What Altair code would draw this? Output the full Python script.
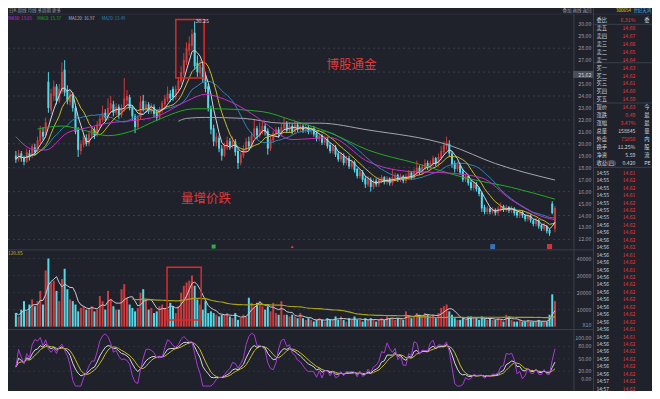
import altair as alt
import pandas as pd

# ---------------- data ----------------
opens = [
 19.0,18.7,19.2,18.8,18.5,19.2,19.0,19.7,19.4,20.2,
 21.0,20.7,25.2,22.8,24.0,24.8,23.6,24.4,26.2,24.5,
 23.5,24.0,23.0,21.2,19.4,19.9,20.5,20.0,20.7,21.2,
 20.7,21.5,22.0,22.6,22.2,22.9,23.3,22.6,23.1,22.4,
 22.9,23.6,23.9,23.0,22.3,21.4,22.2,23.6,22.9,23.3,
 22.7,23.1,22.6,22.2,22.8,23.3,23.7,24.2,24.6,23.9,
 24.5,25.2,25.9,26.8,27.8,28.2,29.3,26.8,25.9,26.4,
 25.5,24.8,23.0,21.3,20.1,20.5,19.6,19.0,19.7,20.2,
 19.8,20.2,19.4,18.4,19.0,19.5,20.2,19.8,20.6,21.3,
 20.7,21.1,21.5,21.1,19.6,20.3,20.8,21.2,20.8,21.3,
 21.7,21.1,21.5,21.0,21.6,21.2,21.5,21.1,21.4,21.0,
 21.3,20.9,20.4,20.7,20.1,20.4,19.9,19.4,19.7,19.2,
 18.7,19.0,18.4,18.8,18.1,18.5,17.9,17.3,17.6,17.1,
 16.6,17.0,16.4,16.9,16.6,16.9,17.2,16.8,17.1,16.7,
 17.1,17.4,17.0,17.3,16.9,17.2,17.6,17.2,17.6,18.0,
 17.6,18.0,18.4,18.0,18.3,18.8,18.3,18.8,19.3,19.8,
 20.0,19.2,18.4,17.9,18.2,17.7,17.0,17.3,16.8,16.3,
 16.6,16.3,15.9,14.7,14.3,14.6,14.3,14.5,14.2,14.5,
 14.8,14.5,14.7,14.4,14.6,14.3,14.0,14.3,14.0,13.7,
 14.0,13.6,13.3,13.6,13.2,12.9,13.1,12.8,15.0,12.9,
]
closes = [
 18.7,19.2,18.8,18.5,19.3,19.0,19.8,19.3,20.3,21.2,
 20.6,21.8,23.0,24.2,24.8,23.6,24.6,26.0,24.3,23.6,
 24.2,23.0,21.0,19.5,20.0,20.6,20.0,20.8,21.2,20.7,
 21.6,22.1,22.6,22.2,23.0,23.4,22.6,23.1,22.4,23.0,
 23.8,24.0,23.0,22.3,21.4,22.2,23.5,22.9,23.3,22.7,
 23.2,22.5,22.2,22.9,23.4,23.8,24.2,23.8,23.9,24.6,
 25.3,26.0,27.0,28.0,28.4,29.2,26.5,26.0,26.6,25.4,
 24.6,23.0,21.2,20.2,20.6,19.6,19.0,19.8,20.3,19.8,
 20.3,19.3,18.4,19.1,19.6,20.2,19.8,20.7,21.3,20.7,
 21.2,21.5,21.0,19.6,20.4,20.9,21.2,20.8,21.4,21.7,
 21.1,21.5,21.0,21.6,21.2,21.5,21.1,21.4,21.0,21.3,
 20.8,20.4,20.7,20.1,20.5,19.8,19.4,19.8,19.1,18.7,
 19.1,18.4,18.8,18.1,18.5,17.8,17.3,17.7,17.0,16.6,
 17.1,16.4,16.9,16.6,17.0,17.2,16.8,17.1,16.7,17.2,
 17.4,17.0,17.3,16.9,17.3,17.6,17.2,17.7,18.0,17.6,
 18.1,18.4,18.0,18.4,18.8,18.3,18.9,19.4,19.9,20.1,
 19.2,18.3,17.9,18.3,17.6,17.0,17.3,16.7,16.3,16.7,
 16.2,15.8,14.6,14.3,14.6,14.3,14.5,14.2,14.6,14.8,
 14.5,14.7,14.4,14.6,14.2,14.0,14.3,14.0,13.7,14.0,
 13.6,13.3,13.6,13.1,12.9,13.2,12.7,12.5,14.2,14.63,
]
highs = [
 19.4,19.5,19.4,19.0,19.6,19.5,20.0,20.0,20.6,21.5,
 21.4,22.2,26.0,24.6,25.3,25.0,25.0,26.8,27.0,24.9,
 24.5,24.3,23.2,21.4,20.3,20.8,20.8,21.1,21.5,21.4,
 21.9,22.4,23.2,22.9,23.8,24.0,23.6,23.4,23.3,23.3,
 25.5,24.5,24.1,23.2,22.5,22.4,24.0,24.1,23.6,23.5,
 23.4,23.3,22.8,23.1,23.6,24.1,24.8,24.5,24.8,24.9,
 25.6,26.5,27.6,28.5,29.0,29.6,30.25,27.4,27.0,26.8,
 25.8,25.0,23.2,21.6,20.9,20.7,19.9,20.1,20.6,20.5,
 20.6,20.4,19.6,19.3,19.9,20.5,20.6,21.0,22.0,21.5,
 21.8,21.9,21.7,21.3,20.7,21.1,21.4,21.4,21.7,22.2,
 21.9,21.8,21.7,21.9,21.8,21.8,21.7,21.6,21.6,21.5,
 21.5,21.1,20.9,20.8,20.7,20.6,20.1,20.0,19.9,19.4,
 19.3,19.2,19.0,19.0,18.7,18.6,18.0,17.9,17.8,17.3,
 17.3,17.2,17.1,17.1,17.2,17.4,17.3,17.3,17.2,17.9,
 17.6,17.5,17.5,17.4,17.5,17.8,17.7,17.9,18.6,18.2,
 18.3,18.7,18.6,18.6,19.0,18.9,19.2,19.8,20.2,20.6,
 20.3,19.4,18.6,18.5,18.4,17.9,17.5,17.4,17.0,16.9,
 16.8,16.4,16.0,14.9,14.8,14.7,14.7,14.6,14.8,15.1,
 14.9,14.9,14.8,14.8,14.7,14.4,14.5,14.4,14.1,14.2,
 14.1,13.7,13.8,13.7,13.3,13.4,13.2,12.9,15.2,14.8,
]
lows = [
 18.4,18.5,18.5,18.2,18.4,18.6,18.8,19.0,19.2,20.0,
 20.3,20.5,22.6,22.5,23.6,23.3,23.4,24.2,24.0,23.3,
 23.2,22.7,20.8,18.9,19.1,19.7,19.8,19.8,20.5,20.4,
 20.6,21.3,21.8,21.9,22.0,22.7,22.3,22.4,22.1,22.2,
 22.7,23.3,22.8,22.0,20.9,21.2,22.0,22.7,22.6,22.5,
 22.5,22.2,21.9,22.0,22.6,23.1,23.5,23.5,23.6,23.7,
 24.3,25.0,25.7,26.6,27.4,27.8,26.2,25.6,25.6,25.1,
 24.3,22.7,20.8,19.8,19.8,19.3,18.6,18.9,19.5,19.5,
 19.6,19.0,17.9,18.2,18.8,19.3,19.5,19.6,20.4,20.4,
 20.5,20.8,20.7,19.1,19.4,20.1,20.6,20.5,20.6,21.1,
 20.9,20.9,20.8,20.8,21.0,21.0,20.9,20.9,20.8,20.8,
 20.6,20.2,20.2,19.9,19.9,19.6,19.2,19.2,18.9,18.5,
 18.5,18.2,18.2,17.9,17.9,17.6,17.1,17.1,16.8,16.3,
 16.4,16.0,16.2,16.4,16.4,16.7,16.6,16.6,16.5,16.5,
 16.9,16.8,16.8,16.7,16.7,17.0,17.0,17.0,17.4,17.4,
 17.4,17.8,17.8,17.8,18.1,18.1,18.1,18.6,19.1,19.5,
 18.9,18.0,17.6,17.7,17.4,16.8,16.8,16.5,16.1,16.1,
 16.0,15.6,14.3,14.1,14.1,14.1,14.1,14.0,14.0,14.3,
 14.3,14.3,14.2,14.2,14.0,13.8,13.8,13.8,13.5,13.5,
 13.4,13.1,13.1,12.9,12.7,12.7,12.5,12.3,14.1,12.6,
]
# volume in thousands
volumes = [
 8,6,10,15,9,13,16,12,15,21,
 13,33,40,26,27,21,15,28,34,22,
 16,15,13,9,11,12,10,11,12,9,
 10,18,15,10,21,16,12,10,10,22,
 25,17,13,11,9,11,20,22,16,10,
 11,8,9,12,13,11,10,14,12,8,
 12,20,24,26,27,30,24,16,13,10,
 15,8,9,8,7,6,7,7,8,6,
 5,8,4,5,7,6,17,14,12,14,
 15,12,10,12,9,14,8,7,15,7,
 7,6,7,6,5,8,5,4,5,4,
 3,4,5,4,3,5,4,4,6,4,
 6,4,3,5,4,6,4,4,3,5,
 4,5,4,3,4,5,4,6,5,5,
 4,5,5,4,9,6,5,6,8,7,
 6,8,7,6,7,5,8,11,12,13,
 9,7,5,4,4,5,4,6,6,5,
 5,4,6,5,4,5,4,4,5,4,
 3,7,6,4,3,3,4,3,3,4,
 3,3,3,4,3,3,3,7,19,15,
]

# long moving averages (candle index, price)
ma30_at = [0, 6, 11, 19, 26, 34, 44, 52, 63, 70, 77, 87, 92, 102, 116, 130, 144, 160, 172, 183, 195, 199]
ma30_val = [20.6, 19.56, 19.48, 20.92, 21.33, 21.73, 21.97, 22.29, 23.57, 24.14, 23.73, 22.53, 21.73,
            20.36, 20.52, 18.51, 17.71, 17.55, 17.15, 15.30, 13.86, 13.65]
ma60_at = [8, 17, 26, 34, 44, 52, 66, 73, 91, 102, 116, 130, 148, 166, 183, 199]
ma60_val = [21.24, 21.49, 21.08, 20.68, 21.16, 21.97, 22.93, 22.93, 22.69, 21.97, 20.92, 19.48,
            18.35, 17.15, 16.35, 15.37]
ma120_at = [60, 63, 70, 84, 98, 112, 130, 160, 177, 199]
ma120_val = [21.89, 22.13, 22.21, 22.13, 21.73, 21.73, 21.16, 19.88, 18.35, 16.97]

# 26.00 is hidden behind the cross-hair price box in the reference
price_ticks = [30, 29, 28, 27, 25, 24, 23, 22, 21, 20, 19, 18, 17, 16, 15, 14, 13, 12]
price_grid = [28, 26, 24, 22, 20, 18, 16, 14, 12]
vol_ticks = [40, 30, 20, 10]
vol_tick_labels = ["40000", "30000", "20000", "10000"]
osc_ticks = [100, 80, 50, 20, 0]

legend_text = ["MA30: 13.65", "MA60: 15.37", "MA120: 16.97", "MA20: 13.49"]

book_labels = ["委比", "卖五", "卖四", "卖三", "卖二", "卖一", "买一", "买二", "买三", "买四", "买五",
               "现价", "涨跌", "涨幅", "总量", "外盘", "换手", "净资", "收益(四)"]
book_values = ["6.31%", "14.68", "14.67", "14.66", "14.65", "14.64", "14.63", "14.62", "14.61", "14.60",
               "14.59", "14.63", "0.49", "3.47%", "158845", "75858", "11.25%", "5.59", "0.420"]
book_extra = ["委", "", "", "", "", "", "", "", "", "", "", "今", "最", "最", "量", "内", "股", "流", "PE"]

tick_times = ["14:55", "14:55", "14:55", "14:55", "14:55", "14:55", "14:55", "14:56", "14:56", "14:56",
              "14:56", "14:56", "14:56", "14:56", "14:56", "14:56", "14:56", "14:56", "14:56", "14:56",
              "14:56", "14:56", "14:56", "14:56", "14:56", "14:56", "14:56", "14:56", "14:57", "14:57"]
tick_prices = ["14.61", "14.62", "14.62", "14.61", "14.62", "14.62", "14.62", "14.62", "14.62", "14.62",
               "14.62", "14.61", "14.62", "14.61", "14.62", "14.62", "14.62", "14.62", "14.62", "14.62",
               "14.62", "14.61", "14.61", "14.62", "14.62", "14.62", "14.62", "14.62", "14.62", "14.62"]

# signal markers along the bottom of the price panel (candle index)
sig_green = [73]
sig_red_tri = [102]
sig_blue = [176]
sig_red = [197]

# ---------------- styling / layout ----------------
BG = "#1f222b"
RED = "#cf3a3c"
CYAN = "#4fdcea"
GRID = "#3a3e4b"
LINE = "#3b3f4c"
AXT = "#9a9ca6"
TXT = "#d2d2d6"
BRED = "#e8393a"
FONT = "Noto Sans CJK SC"

W, H = 644, 383            # drawing area inside the 8px page margin
SX, SY = W / 660, H / 399  # reference pixel -> drawing pixel


def px(v):
    return round(v * SX, 2)


def py(v):
    return round(v * SY, 2)


N = len(closes)
df = pd.DataFrame({"i": list(range(N)), "open": opens, "close": closes,
                   "high": highs, "low": lows, "vol": volumes})

XS = alt.Scale(domain=[-3 / 2.82, (660 - 3) / 2.82], range=[0, W], nice=False, zero=False)
PS = alt.Scale(domain=[12, 30], range=[py(241.1), py(17)], nice=False, zero=False)
VS = alt.Scale(domain=[0, 40], range=[py(332), py(261)], nice=False, zero=False)
OS = alt.Scale(domain=[0, 100], range=[py(387), py(344)], nice=False, zero=False)
X = alt.X("i:Q", scale=XS, axis=None)
DIR = alt.Color("dir:N", scale=alt.Scale(domain=["up", "down"], range=[RED, CYAN]), legend=None)
SORT = [alt.SortField("i")]

one = pd.DataFrame({"k": [0]})
layers = []


def rule(x, x2, y, y2=None, color=LINE, dash=None, width=1):
    kw = dict(color=color, strokeWidth=width)
    if dash:
        kw["strokeDash"] = dash
    enc = dict(x=alt.value(px(x)), x2=alt.value(px(x2)), y=alt.value(py(y)))
    if y2 is not None:
        enc["y2"] = alt.value(py(y2))
    return alt.Chart(one).mark_rule(**kw).encode(**enc)


def label(text, x, y, size, color, align="left", weight="normal"):
    return alt.Chart(one).mark_text(text=text, font=FONT, fontSize=size, color=color, align=align,
                                    baseline="middle", fontWeight=weight).encode(
        x=alt.value(px(x)), y=alt.value(py(y)))


# frame lines
layers += [rule(0, 600, 252), rule(0, 600, 335), rule(0, 660, 6.5, color="#2c2f3a")]
layers += [rule(580, 580, 6.5, 399), rule(600, 600, 0, 399)]
for yy in [17, 57, 99, 166]:
    layers.append(rule(600, 660, yy))

# grid lines
layers.append(alt.Chart(pd.DataFrame({"p": price_grid})).mark_rule(color=GRID, strokeDash=[2, 3])
              .encode(x=alt.value(0), x2=alt.value(px(580)), y=alt.Y("p:Q", scale=PS, axis=None)))
layers.append(alt.Chart(pd.DataFrame({"v": vol_ticks})).mark_rule(color=GRID, strokeDash=[2, 3], opacity=0.6)
              .encode(x=alt.value(0), x2=alt.value(px(580)), y=alt.Y("v:Q", scale=VS, axis=None)))
layers.append(alt.Chart(pd.DataFrame({"o": [80, 50, 20]})).mark_rule(color=GRID, strokeDash=[2, 3], opacity=0.6)
              .encode(x=alt.value(0), x2=alt.value(px(580)), y=alt.Y("o:Q", scale=OS, axis=None)))

base = alt.Chart(df).transform_calculate(dir="datum.close >= datum.open ? 'up' : 'down'")

# volume
layers.append(base.mark_bar(size=2).encode(x=X, y=alt.Y("vol:Q", scale=VS, axis=None), color=DIR))
vbase = alt.Chart(df).transform_window(vma5="mean(vol)", frame=[-4, 0], sort=SORT) \
    .transform_window(vma60="mean(vol)", frame=[-59, 0], sort=SORT)
layers.append(vbase.mark_line(color="#c9c9cf", strokeWidth=1).encode(x=X, y=alt.Y("vma5:Q", scale=VS, axis=None)))
layers.append(vbase.transform_filter("datum.i >= 43").mark_line(color="#a7a21c", strokeWidth=1.2)
              .encode(x=X, y=alt.Y("vma60:Q", scale=VS, axis=None)))

# candles
layers.append(base.mark_rule(strokeWidth=1).encode(x=X, y=alt.Y("low:Q", scale=PS, axis=None), y2="high:Q", color=DIR))
layers.append(base.mark_bar(size=2).encode(x=X, y=alt.Y("open:Q", scale=PS, axis=None), y2="close:Q", color=DIR))

# moving averages
mb = alt.Chart(df).transform_window(ma5="mean(close)", frame=[-4, 0], sort=SORT) \
    .transform_window(ma10="mean(close)", frame=[-9, 0], sort=SORT) \
    .transform_window(ma20="mean(close)", frame=[-19, 0], sort=SORT)
for f, c in [("ma20", "#2a86bd"), ("ma10", "#c6bd2a"), ("ma5", "#d6d6da")]:
    layers.append(mb.mark_line(color=c, strokeWidth=1).encode(x=X, y=alt.Y(f + ":Q", scale=PS, axis=None)))
for at, val, c in [(ma120_at, ma120_val, "#a4a4ae"), (ma60_at, ma60_val, "#25a825"), (ma30_at, ma30_val, "#c62fc6")]:
    d = pd.DataFrame({"i": at, "m": val})
    layers.append(alt.Chart(d).mark_line(color=c, strokeWidth=1, interpolate="monotone")
                  .encode(x=X, y=alt.Y("m:Q", scale=PS, axis=None)))

# KDJ oscillator
kb = alt.Chart(df).transform_window(llv="min(low)", hhv="max(high)", frame=[-8, 0], sort=SORT) \
    .transform_calculate(rsv="(datum.close - datum.llv) / max(0.01, datum.hhv - datum.llv) * 100") \
    .transform_window(k="mean(rsv)", frame=[-3, 0], sort=SORT) \
    .transform_window(d="mean(k)", frame=[-3, 0], sort=SORT) \
    .transform_calculate(j="clamp(3 * datum.k - 2 * datum.d, -16, 112)")
for f, c in [("d", "#c6bd2a"), ("k", "#d6d6da"), ("j", "#a93ad8")]:
    layers.append(kb.mark_line(color=c, strokeWidth=1).encode(x=X, y=alt.Y(f + ":Q", scale=OS, axis=None)))

# signal markers (fixed colours, no shared colour scale)
SIGY = alt.value(py(248.5))
for pos, col, sz in [(sig_green, "#2fae4e", 16), (sig_blue, "#3a72b8", 24), (sig_red, "#c8383a", 26)]:
    layers.append(alt.Chart(pd.DataFrame({"i": pos})).mark_square(size=sz, opacity=1, color=col)
                  .encode(x=X, y=SIGY))
layers.append(alt.Chart(pd.DataFrame({"i": sig_red_tri})).mark_point(
    shape="triangle-up", size=10, filled=True, color="#d83a3a", opacity=1).encode(x=X, y=SIGY))

# annotations
layers.append(alt.Chart(one).mark_rect(filled=False, stroke="#e02828", strokeWidth=1.5)
              .encode(x=alt.value(px(172)), x2=alt.value(px(201)), y=alt.value(py(12)), y2=alt.value(py(73))))
layers.append(alt.Chart(one).mark_rect(filled=False, stroke="#e02828", strokeWidth=1.5)
              .encode(x=alt.value(px(163)), x2=alt.value(px(198)), y=alt.value(py(270)), y2=alt.value(py(325))))
layers.append(label("博股通金", 352, 59, 12.5, "#e0393a", align="center"))
layers.append(label("量增价跌", 203, 199, 12.5, "#e0393a", align="center"))
peak = df[df.high == max(highs)]
layers.append(alt.Chart(peak).mark_text(font=FONT, fontSize=5.3, color=TXT, align="left", baseline="middle", dx=1)
              .encode(x=X, y=alt.Y("high:Q", scale=PS, axis=None), text=alt.Text("high:Q", format=".2f")))

# right axis labels
pt = pd.DataFrame({"p": price_ticks, "t": [f"{p:.2f}" for p in price_ticks]})
layers.append(alt.Chart(pt).mark_text(font=FONT, fontSize=5.3, color=AXT, align="right", baseline="middle")
              .encode(x=alt.value(px(598)), y=alt.Y("p:Q", scale=PS, axis=None), text="t:N"))
vt = pd.DataFrame({"v": vol_ticks, "t": vol_tick_labels})
layers.append(alt.Chart(vt).mark_text(font=FONT, fontSize=5.3, color=AXT, align="right", baseline="middle")
              .encode(x=alt.value(px(598)), y=alt.Y("v:Q", scale=VS, axis=None), text="t:N"))
layers.append(label("X10", 598, 330, 5.3, AXT, align="right"))
ot = pd.DataFrame({"o": osc_ticks, "t": [f"{o:.2f}" for o in osc_ticks]})
layers.append(alt.Chart(ot).mark_text(font=FONT, fontSize=5.3, color=AXT, align="right", baseline="middle")
              .encode(x=alt.value(px(598)), y=alt.Y("o:Q", scale=OS, axis=None), text="t:N"))
# crosshair price box
layers.append(alt.Chart(one).mark_rect(color="#4a4e5a").encode(
    x=alt.value(px(579)), x2=alt.value(px(600)), y=alt.value(py(65.5)), y2=alt.value(py(73))))
layers.append(label("25.62", 598, 69.3, 5.3, TXT, align="right"))

# legend row & panel labels
lx = [0, 30, 62, 96]
lc = ["#c62fc6", "#25a825", "#b8b8c0", "#2a86bd"]
for t, x0, c in zip(legend_text, lx, lc):
    layers.append(label(t, x0, 11, 4.3, c))
layers.append(label("120.85", 0, 256.5, 4.8, "#c6bd2a"))

# header
layers.append(label("日K  周线  月线  多周期  更多", 1, 3.3, 4.5, AXT))
layers.append(label("叠加  画线  返回", 598, 3.3, 4.5, AXT, align="right"))
layers.append(label("300654", 623, 3.3, 4.5, "#e8d21c"))
layers.append(label("世纪天鸿", 641, 3.3, 4.4, "#3fb0e8"))

# order book
RS = alt.Scale(domain=[0, 18], range=[py(12.7), py(161)], nice=False, zero=False)
bk = pd.DataFrame({"r": list(range(len(book_labels))), "lab": book_labels, "val": book_values, "ext": book_extra})
white_rows = ["总量", "换手", "净资", "收益(四)"]
layers.append(alt.Chart(bk).mark_text(font=FONT, fontSize=5.3, color=TXT, align="left", baseline="middle")
              .encode(x=alt.value(px(603)), y=alt.Y("r:Q", scale=RS, axis=None), text="lab:N"))
layers.append(alt.Chart(bk).mark_text(font=FONT, fontSize=5.2, align="right", baseline="middle")
              .encode(x=alt.value(px(643)), y=alt.Y("r:Q", scale=RS, axis=None), text="val:N",
                      color=alt.condition(alt.FieldOneOfPredicate(field="lab", oneOf=white_rows),
                                          alt.value(TXT), alt.value(BRED))))
layers.append(alt.Chart(bk).mark_text(font=FONT, fontSize=5.3, color=TXT, align="left", baseline="middle")
              .encode(x=alt.value(px(652)), y=alt.Y("r:Q", scale=RS, axis=None), text="ext:N"))

TS = alt.Scale(domain=[0, 29], range=[py(171.7), py(396.5)], nice=False, zero=False)
tk = pd.DataFrame({"r": list(range(len(tick_times))), "t": tick_times, "p": tick_prices})
layers.append(alt.Chart(tk).mark_text(font=FONT, fontSize=5.1, color=TXT, align="left", baseline="middle")
              .encode(x=alt.value(px(603)), y=alt.Y("r:Q", scale=TS, axis=None), text="t:N"))
layers.append(alt.Chart(tk).mark_text(font=FONT, fontSize=5.1, color=BRED, align="right", baseline="middle")
              .encode(x=alt.value(px(643)), y=alt.Y("r:Q", scale=TS, axis=None), text="p:N"))

chart = alt.layer(*layers).resolve_scale(y="independent").properties(
    width=W, height=H,
    autosize=alt.AutoSizeParams(type="none"),
    padding=0,
    background=BG,
).configure_view(strokeWidth=0)

chart.save("out.html", embed_options={"renderer": "svg", "actions": False})
